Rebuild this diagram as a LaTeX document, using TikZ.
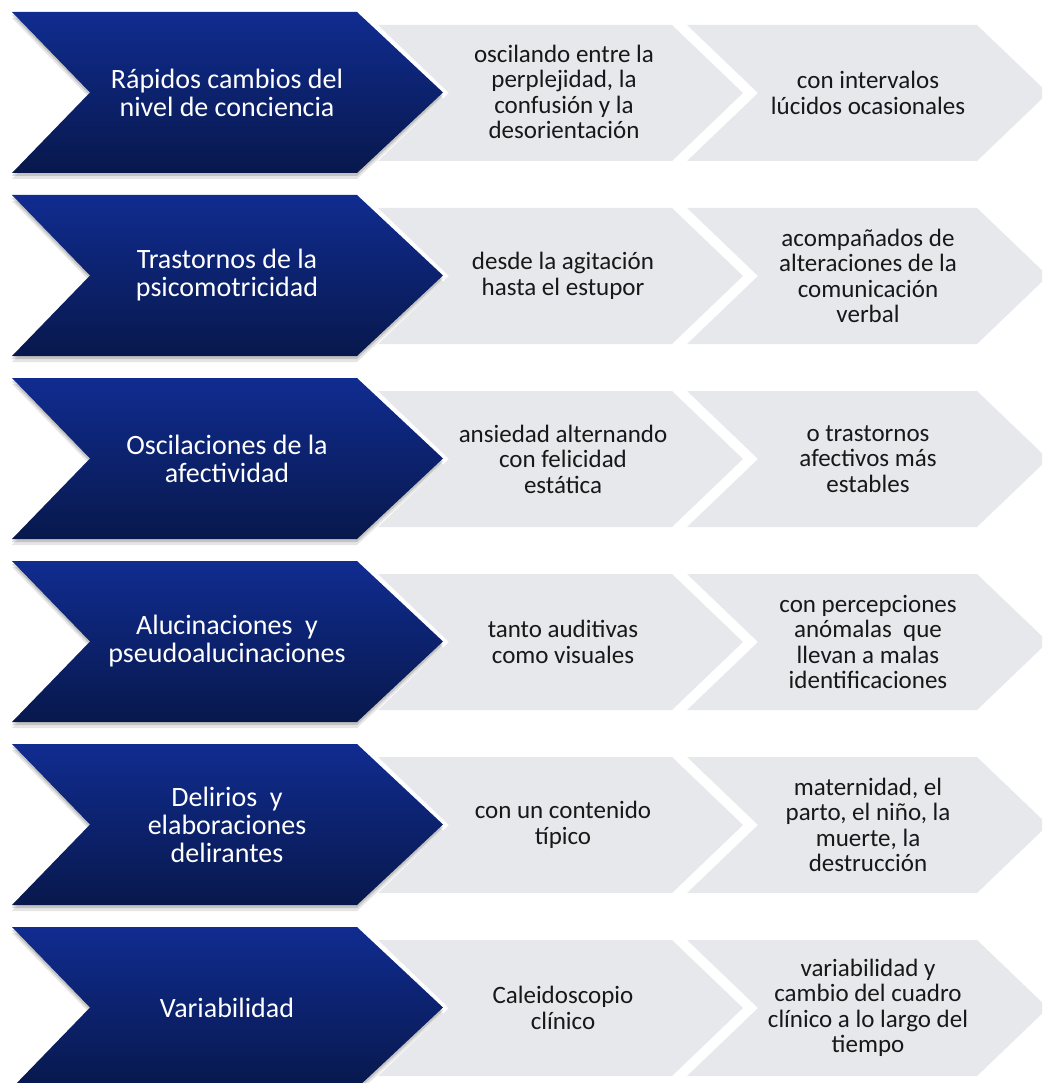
\documentclass[tikz,border=0pt]{standalone}
\usepackage{fontspec}
\setmainfont{Carlito}
\usetikzlibrary{shadows}
\definecolor{navytop}{RGB}{16,44,144}
\definecolor{navybot}{RGB}{8,24,76}
\definecolor{greyarrow}{RGB}{230,232,236}
\definecolor{greytext}{RGB}{24,24,24}
\begin{document}
\begin{tikzpicture}
	[x=1pt,y=-1pt,
	 head/.style={top color=navytop,bottom color=navybot,draw=none,
		drop shadow={shadow xshift=0pt,shadow yshift=-6pt,opacity=0.1,fill=black},
		drop shadow={shadow xshift=0pt,shadow yshift=-3pt,opacity=0.15,fill=black}},
	 tail/.style={fill=greyarrow,draw=none},
	 head text/.style={align=center,text=white,font=\fontsize{28}{28}\selectfont},
	 tail text/.style={align=center,text=greytext,font=\fontsize{25}{25.5}\selectfont}]
	\useasboundingbox (0,0) rectangle (1042,1083);
	\clip (0,0) rectangle (1042,1083);
	\foreach \t in {12,195,378,561,744,927}{
		\path[tail] (378,{\t+13}) -- ++(294,0) -- ++(71,68) -- ++(-71,68) -- ++(-294,0) -- ++(71,-68) -- cycle;
		\path[tail] (687,{\t+13}) -- ++(290,0) -- ++(71,68) -- ++(-71,68) -- ++(-290,0) -- ++(71,-68) -- cycle;
		\path[head] (12,\t) -- ++(345,0) -- ++(86,80.5) -- ++(-86,80.5) -- ++(-345,0) -- ++(78,-80.5) -- cycle;
	}
	\node[head text] (cambios) at (227,92.5) {Rápidos cambios del\\nivel de conciencia};
	\node[tail text] (oscilando) at (564,92) {oscilando entre la\\perplejidad, la\\confusión y la\\desorientación};
	\node[tail text] (lucidos) at (868,93) {con intervalos\\lúcidos ocasionales};
	\node[head text] (trastornos) at (227,275.5) {Trastornos de la\\psicomotricidad};
	\node[tail text] (agitacion) at (563,276) {desde la agitación\\hasta el estupor};
	\node[tail text] (verbal) at (868,276) {acompañados de\\alteraciones de la\\comunicación\\verbal};
	\node[head text] (afectividad) at (227,458.5) {Oscilaciones de la\\afectividad};
	\node[tail text] (ansiedad) at (563,459) {ansiedad alternando\\con felicidad\\estática};
	\node[tail text] (estables) at (868,459) {o trastornos\\afectivos más\\estables};
	\node[head text] (alucinaciones) at (227,641.5) {Alucinaciones~ y\\pseudoalucinaciones};
	\node[tail text] (auditivas) at (563,642) {tanto auditivas\\como visuales};
	\node[tail text] (percepciones) at (868,642) {con percepciones\\anómalas~ que\\llevan a malas\\identificaciones};
	\node[head text] (delirios) at (227,824.5) {Delirios~ y\\elaboraciones\\delirantes};
	\node[tail text] (contenido) at (563,825) {con un contenido\\típico};
	\node[tail text] (maternidad) at (868,825) {maternidad, el\\parto, el niño, la\\muerte, la\\destrucción};
	\node[head text] (variabilidad) at (227,1007.5) {Variabilidad};
	\node[tail text] (caleidoscopio) at (563,1008) {Caleidoscopio\\clínico};
	\node[tail text] (cuadro) at (868,1008) {variabilidad y\\cambio del cuadro\\clínico a lo largo del\\tiempo};
\end{tikzpicture}
\end{document}
